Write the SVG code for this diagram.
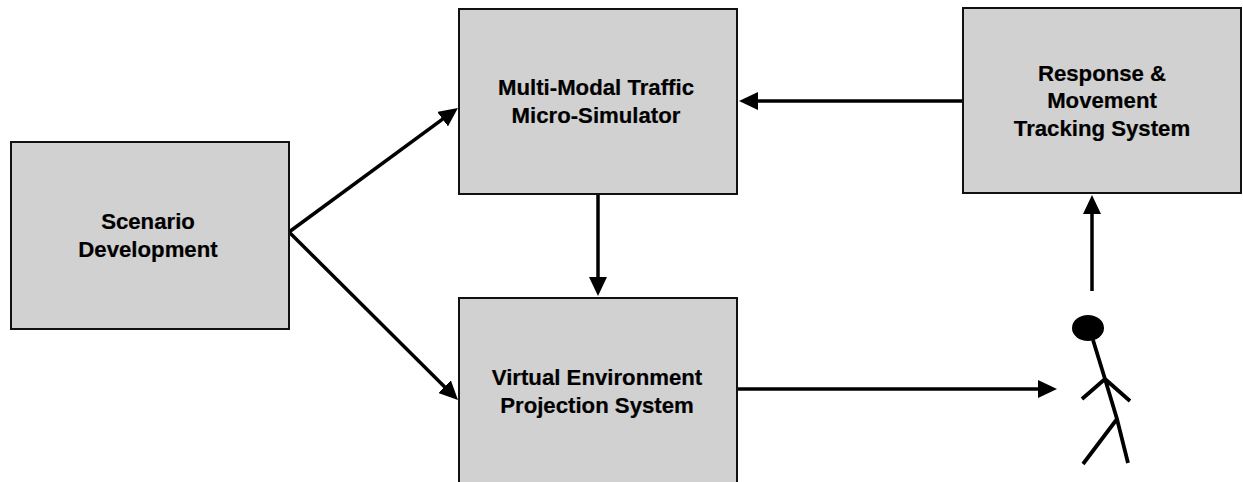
<svg xmlns="http://www.w3.org/2000/svg" width="1243" height="482" viewBox="0 0 1243 482">
<style>
.box{fill:#d1d1d1;stroke:#111;stroke-width:2}
.t{font-family:"Liberation Sans",Arial,sans-serif;font-weight:700;font-size:22.2px;fill:#000;stroke:#000;stroke-width:.2;text-anchor:middle}
.c{fill:none;stroke:#000;stroke-width:3.5}
.f{fill:none;stroke:#000;stroke-width:3.8}
</style>
<defs><marker id="a" markerUnits="userSpaceOnUse" markerWidth="20" markerHeight="18" refX="11" refY="9" orient="auto"><path d="M0 0L19 9L0 18z" fill="#000"/></marker></defs>
<rect width="1243" height="482" fill="#fff"/>
<g id="connectors">
<path class="c" marker-end="url(#a)" d="M289 232L451.5 112.7"/>
<path class="c" marker-end="url(#a)" d="M289 232L452.3 394.4"/>
<path class="c" marker-end="url(#a)" d="M598 194V288"/>
<path class="c" marker-end="url(#a)" d="M962 101H747"/>
<path class="c" marker-end="url(#a)" d="M737 389H1049"/>
<path class="c" marker-end="url(#a)" d="M1092 291V203"/>
</g>
<g id="scenario"><rect class="box" x="11" y="142" width="278" height="187"/><text class="t" x="148" y="229">Scenario</text><text class="t" x="148" y="257">Development</text></g>
<g id="simulator"><rect class="box" x="459" y="9" width="278" height="185"/><text class="t" x="596" y="95">Multi-Modal Traffic</text><text class="t" x="596" y="123">Micro-Simulator</text></g>
<g id="projection"><rect class="box" x="459" y="298" width="278" height="186"/><text class="t" x="597" y="385">Virtual Environment</text><text class="t" x="597" y="413">Projection System</text></g>
<g id="tracking"><rect class="box" x="963" y="8" width="278" height="185"/><text class="t" x="1102" y="81">Response &amp;</text><text class="t" x="1102" y="108">Movement</text><text class="t" x="1102" y="136">Tracking System</text></g>
<g id="person"><ellipse cx="1088" cy="328" rx="16" ry="13" fill="#000"/><path class="f" d="M1093 340L1105 379L1117 419L1128 463M1105 379L1082 399M1105 379L1130 401M1117 419L1083 464"/></g>
</svg>
